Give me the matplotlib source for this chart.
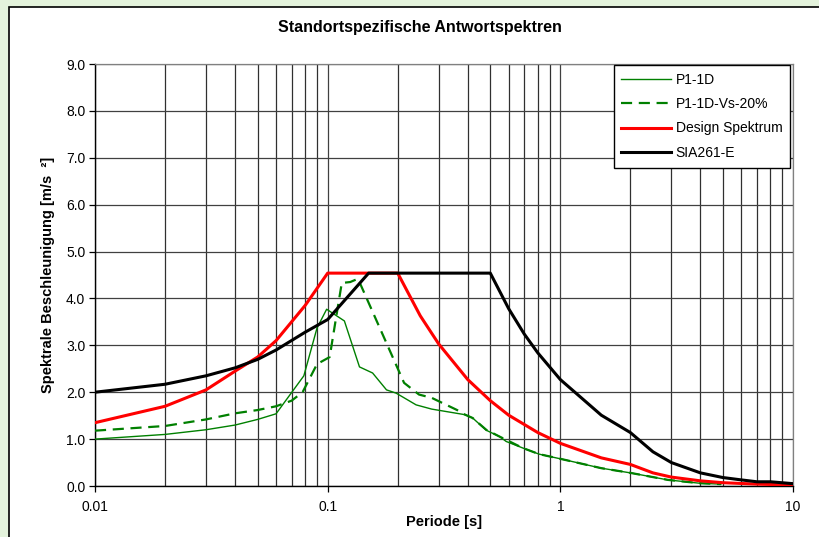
import matplotlib
matplotlib.use("Agg")
import matplotlib.pyplot as plt
from matplotlib.patches import Rectangle
from matplotlib.ticker import LogLocator, FixedLocator, NullFormatter

plt.rcParams['font.family'] = ['Liberation Sans', 'DejaVu Sans']

# P1-1D
t_p1 = [0.01, 0.02, 0.03, 0.04, 0.05, 0.06, 0.079, 0.09, 0.099, 0.118, 0.137, 0.156,
        0.179, 0.197, 0.24, 0.28, 0.39, 0.42, 0.48, 0.55, 0.585, 0.69, 0.81, 1.0,
        1.5, 2.0, 2.9, 3.95, 4.9]
a_p1 = [1.0, 1.1, 1.2, 1.3, 1.42, 1.54, 2.35, 3.37, 3.77, 3.52, 2.54, 2.41,
        2.05, 1.98, 1.73, 1.64, 1.52, 1.45, 1.19, 1.05, 0.95, 0.81, 0.68, 0.58,
        0.38, 0.28, 0.13, 0.06, 0.04]

# P1-1D-Vs-20%
t_vs = [0.01, 0.02, 0.03, 0.04, 0.05, 0.06, 0.07, 0.078, 0.09, 0.102, 0.11, 0.115,
        0.125, 0.135, 0.213, 0.247, 0.28, 0.36, 0.39, 0.42, 0.48, 0.55, 0.69, 0.81,
        1.0, 1.5, 2.0, 2.9, 3.95, 4.9]
a_vs = [1.18, 1.28, 1.42, 1.55, 1.62, 1.7, 1.82, 2.0, 2.6, 2.75, 3.75, 4.33,
        4.35, 4.42, 2.2, 1.95, 1.88, 1.62, 1.52, 1.45, 1.2, 1.05, 0.81, 0.68,
        0.58, 0.38, 0.28, 0.13, 0.06, 0.04]

# Design Spektrum
t_des = [0.01, 0.02, 0.03, 0.04, 0.05, 0.06, 0.08, 0.1, 0.2, 0.25, 0.3, 0.4, 0.5,
         0.6, 0.8, 1.0, 1.5, 2.0, 2.5, 3.0, 4.0, 5.0, 7.0, 10.0]
a_des = [1.35, 1.7, 2.05, 2.45, 2.75, 3.1, 3.85, 4.54, 4.54, 3.63, 3.03, 2.27, 1.82,
         1.51, 1.14, 0.91, 0.6, 0.46, 0.28, 0.19, 0.11, 0.07, 0.04, 0.02]

# SIA261-E
t_sia = [0.01, 0.02, 0.03, 0.04, 0.05, 0.06, 0.08, 0.1, 0.15, 0.5, 0.6, 0.7, 0.8,
         1.0, 1.5, 2.0, 2.5, 3.0, 4.0, 5.0, 6.0, 7.0, 8.0, 10.0]
a_sia = [2.0, 2.17, 2.35, 2.52, 2.7, 2.9, 3.28, 3.55, 4.54, 4.54, 3.78, 3.24, 2.84,
         2.27, 1.51, 1.14, 0.73, 0.5, 0.28, 0.18, 0.13, 0.09, 0.09, 0.05]

x_ticks = [0.01, 0.1, 1, 10]
x_labels = ['0.01', '0.1', '1', '10']
y_ticks = [0.0, 1.0, 2.0, 3.0, 4.0, 5.0, 6.0, 7.0, 8.0, 9.0]

fig = plt.figure(figsize=(8.19, 5.37), dpi=100)
fig.patch.set_facecolor('#e4f3dc')
panel = Rectangle((9 / 819, -0.05), 1.0, 1 - 7 / 537 + 0.05, transform=fig.transFigure,
                  facecolor='white', edgecolor='black', linewidth=1.2, zorder=-10)
fig.add_artist(panel)

ax = fig.add_axes([95 / 819, (537 - 486) / 537, (793 - 95) / 819, (486 - 64) / 537])
ax.set_zorder(1)
ax.set_facecolor('white')

ax.plot(t_p1, a_p1, color='#008000', lw=1.0, label='P1-1D', zorder=3)
ax.plot(t_vs, a_vs, color='#008000', lw=1.6, ls=(0, (5, 3)), label='P1-1D-Vs-20%', zorder=3)
ax.plot(t_des, a_des, color='#ff0000', lw=2.2, label='Design Spektrum', zorder=4)
ax.plot(t_sia, a_sia, color='#000000', lw=2.2, label='SIA261-E', zorder=5)

ax.set_xscale('log')
ax.set_xlim(0.01, 10)
ax.set_ylim(0, 9)
ax.xaxis.set_major_locator(FixedLocator(x_ticks))
ax.set_xticklabels(x_labels)
ax.xaxis.set_minor_locator(LogLocator(base=10, subs=range(2, 10)))
ax.xaxis.set_minor_formatter(NullFormatter())
ax.set_yticks(y_ticks)
ax.set_yticklabels([f'{v:.1f}' for v in y_ticks])

ax.grid(True, which='major', axis='both', color='#404040', lw=0.9, zorder=1)
ax.grid(True, which='minor', axis='x', color='#303030', lw=0.9, zorder=1)
ax.set_axisbelow(True)

for s in ['top', 'right']:
    ax.spines[s].set_color('#808080')
    ax.spines[s].set_linewidth(0.9)
for s in ['left', 'bottom']:
    ax.spines[s].set_color('black')
    ax.spines[s].set_linewidth(1.0)

ax.tick_params(axis='both', which='major', direction='out', length=4, width=0.9,
               labelsize=10, colors='black', pad=3)
ax.tick_params(axis='x', which='minor', length=0)
ax.tick_params(axis='x', which='major', pad=6)

ax.set_xlabel('Periode [s]', fontsize=10.5, fontweight='bold', labelpad=1)
ax.set_ylabel('Spektrale Beschleunigung [m/s  ²]', fontsize=10.5, fontweight='bold', labelpad=8)
fig.text(420 / 819, 1 - 28 / 537, 'Standortspezifische Antwortspektren', ha='center',
         va='center', fontsize=11.5, fontweight='bold')

leg = ax.legend(loc='upper right', bbox_to_anchor=(1.0 - 3 / 698, 1.0 - 1 / 422),
                fontsize=10, frameon=True, fancybox=False, handlelength=3.6,
                borderpad=0.55, labelspacing=0.75, handletextpad=0.3, borderaxespad=0)
leg.get_frame().set_edgecolor('black')
leg.get_frame().set_linewidth(1.0)
leg.get_frame().set_facecolor('white')
leg.get_frame().set_alpha(1)

fig.savefig('out.png', dpi=100, facecolor=fig.get_facecolor())
